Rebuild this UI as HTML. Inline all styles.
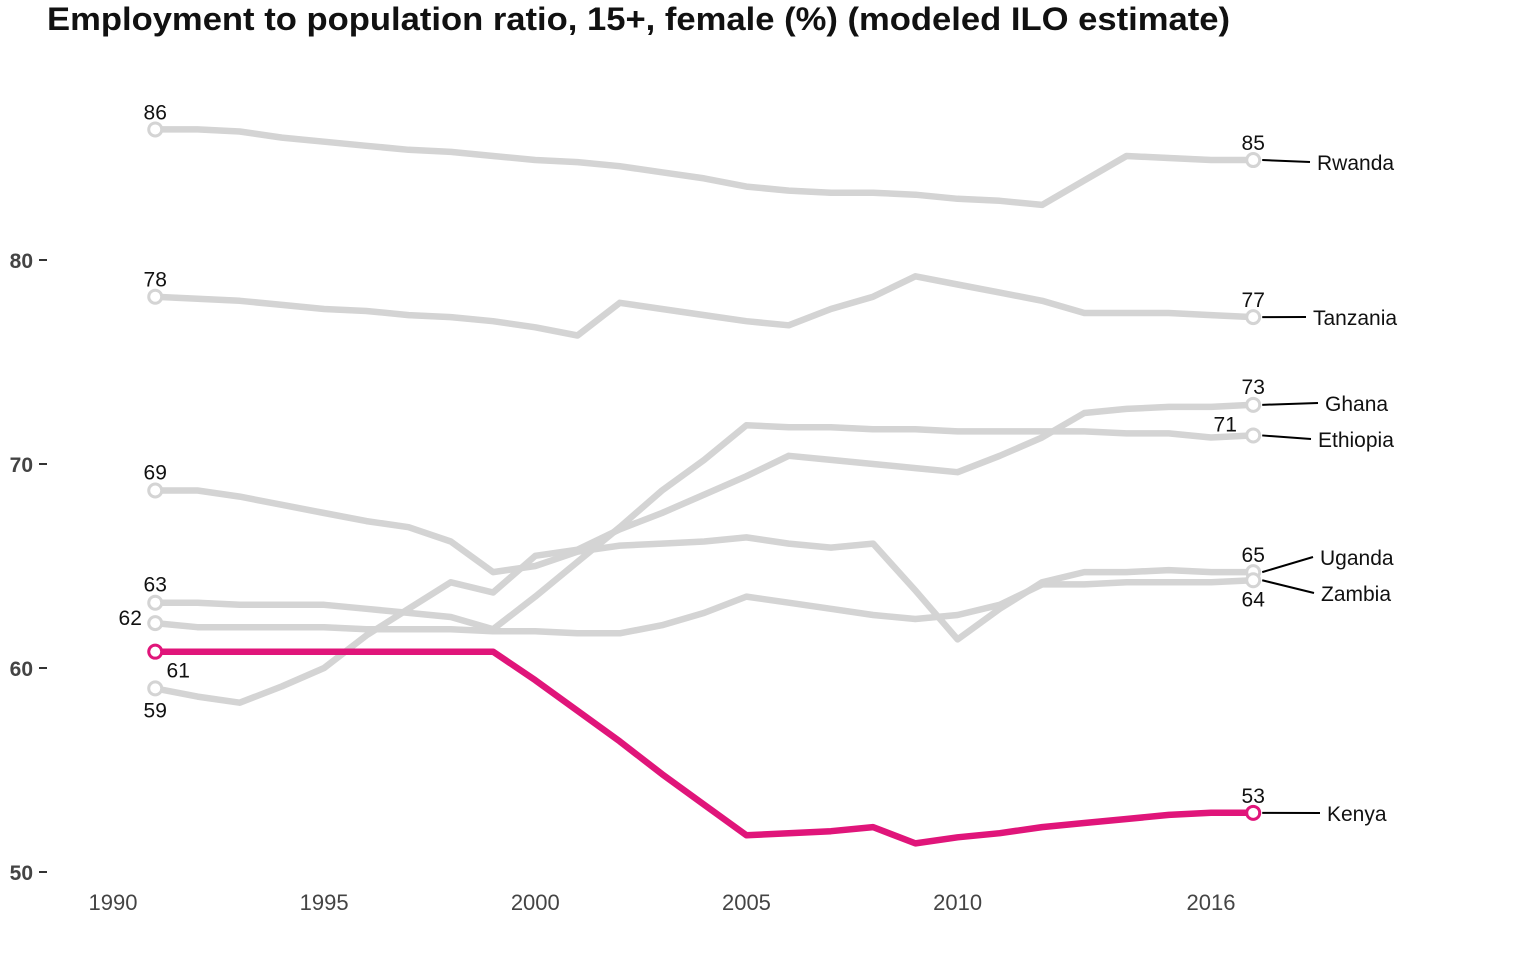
<!DOCTYPE html>
<html><head><meta charset="utf-8"><style>
body{margin:0;background:#fff;font-family:"Liberation Sans",Arial,sans-serif}
svg text{font-family:"Liberation Sans",Arial,sans-serif}
</style></head><body>
<svg id="chart" width="1536" height="960" viewBox="0 0 1536 960" xmlns="http://www.w3.org/2000/svg">
<text x="47" y="30" font-size="32" font-weight="bold" fill="#111" textLength="1183" lengthAdjust="spacingAndGlyphs">Employment to population ratio, 15+, female (%) (modeled ILO estimate)</text>
<g id="axes"></g><g id="lines"></g><g id="labels"></g>
</svg>
<script>
const years = [];
for (let y = 1991; y <= 2017; y++) years.push(y);
const countries = ["Rwanda","Tanzania","Ghana","Ethiopia","Uganda","Zambia","Kenya"];
const rwanda = [86.4,86.4,86.3,86.0,85.8,85.6,85.4,85.3,85.1,84.9,84.8,84.6,84.3,84.0,83.6,83.4,83.3,83.3,83.2,83.0,82.9,82.7,83.9,85.1,85.0,84.9,84.9];
const tanzania = [78.2,78.1,78.0,77.8,77.6,77.5,77.3,77.2,77.0,76.7,76.3,77.9,77.6,77.3,77.0,76.8,77.6,78.2,79.2,78.8,78.4,78.0,77.4,77.4,77.4,77.3,77.2];
const ghana = [59.0,58.6,58.3,59.1,60.0,61.6,62.9,64.2,63.7,65.5,65.8,66.8,67.6,68.5,69.4,70.4,70.2,70.0,69.8,69.6,70.4,71.3,72.5,72.7,72.8,72.8,72.9];
const ethiopia = [63.2,63.2,63.1,63.1,63.1,62.9,62.7,62.5,61.9,63.5,65.2,66.9,68.7,70.2,71.9,71.8,71.8,71.7,71.7,71.6,71.6,71.6,71.6,71.5,71.5,71.3,71.4];
const uganda = [68.7,68.7,68.4,68.0,67.6,67.2,66.9,66.2,64.7,65.0,65.7,66.0,66.1,66.2,66.4,66.1,65.9,66.1,63.8,61.4,62.9,64.2,64.7,64.7,64.8,64.7,64.7];
const zambia = [62.2,62.0,62.0,62.0,62.0,61.9,61.9,61.9,61.8,61.8,61.7,61.7,62.1,62.7,63.5,63.2,62.9,62.6,62.4,62.6,63.1,64.1,64.1,64.2,64.2,64.2,64.3];
const kenya = [60.8,60.8,60.8,60.8,60.8,60.8,60.8,60.8,60.8,59.4,57.9,56.4,54.8,53.3,51.8,51.9,52.0,52.2,51.4,51.7,51.9,52.2,52.4,52.6,52.8,52.9,52.9];
const yTicks = [50,60,70,80];
const xTicks = [1990,1995,2000,2005,2010,2016];

const NS = "http://www.w3.org/2000/svg";
const X = yr => 113 + (yr - 1990) * 42.23;
const Y = v => 872 - (v - 50) * 20.4;
function mk(tag, attrs, parent, txt){const e=document.createElementNS(NS,tag);for(const k in attrs)e.setAttribute(k,attrs[k]);if(txt!==undefined)e.textContent=txt;parent.appendChild(e);return e;}
const axes=document.getElementById('axes'), linesG=document.getElementById('lines'), labelsG=document.getElementById('labels');
yTicks.forEach(t=>{
  const l=mk('line',{x1:39,x2:47,y1:Y(t),y2:Y(t),stroke:'#333','stroke-width':2},axes);
  
  
  const tx=mk('text',{x:33,y:Y(t)+8,'text-anchor':'end','font-size':21,'font-weight':'bold',fill:'#444'},axes,String(t));
  
  
});
xTicks.forEach(t=>{
  const tx=mk('text',{x:X(t),y:910,'text-anchor':'middle','font-size':22,fill:'#444'},axes,String(t));
  
  
});
const series=[rwanda,tanzania,ghana,ethiopia,uganda,zambia,kenya];
const startLab=[[0,-10,'middle'],[0,-10,'middle'],[0,29,'middle'],[0,-11,'middle'],[0,-11,'middle'],[-25,2,'middle'],[23,26,'middle']];
const endLab=[[0,-10,'middle'],[0,-10,'middle'],[0,-11,'middle'],[-28,-4,'middle'],[0,-10,'middle'],[0,26,'middle'],[0,-10,'middle']];
const nameLab=[[1317,163],[1313,318],[1325,404],[1318,440],[1320,558],[1321,594],[1327,814]];
series.forEach((s,i)=>{
  const col = i===6 ? '#e0157a' : '#d4d4d4';
  const d=s.map((v,j)=>(j?'L':'M')+X(years[j]).toFixed(1)+','+Y(v).toFixed(1)).join(' ');
  const p=mk('path',{d:d,fill:'none',stroke:col,'stroke-width':6.5,'stroke-linejoin':'round'},linesG);
  
  
  [0,s.length-1].forEach(j=>{
    const c=mk('circle',{cx:X(years[j]),cy:Y(s[j]),r:6.5,fill:'#fff',stroke:col,'stroke-width':3},linesG);
    
    
  });
  const a=startLab[i], b=endLab[i];
  const t1=mk('text',{x:X(years[0])+a[0],y:Y(s[0])+a[1],'text-anchor':a[2],'font-size':21,fill:'#111'},labelsG,String(Math.round(s[0])));
  
  
  const last=s[s.length-1];
  const t2=mk('text',{x:X(2017)+b[0],y:Y(last)+b[1],'text-anchor':b[2],'font-size':21,fill:'#111'},labelsG,String(Math.round(last)));
  
  
  const n=nameLab[i];
  const ln=mk('line',{x1:X(2017)+9,y1:Y(last),x2:n[0]-7,y2:n[1]-1,stroke:'#000','stroke-width':2},labelsG);
  
  
  const t3=mk('text',{x:n[0],y:n[1]+7,'font-size':21,fill:'#111'},labelsG,countries[i]);
  
  
});
</script>
</body></html>
